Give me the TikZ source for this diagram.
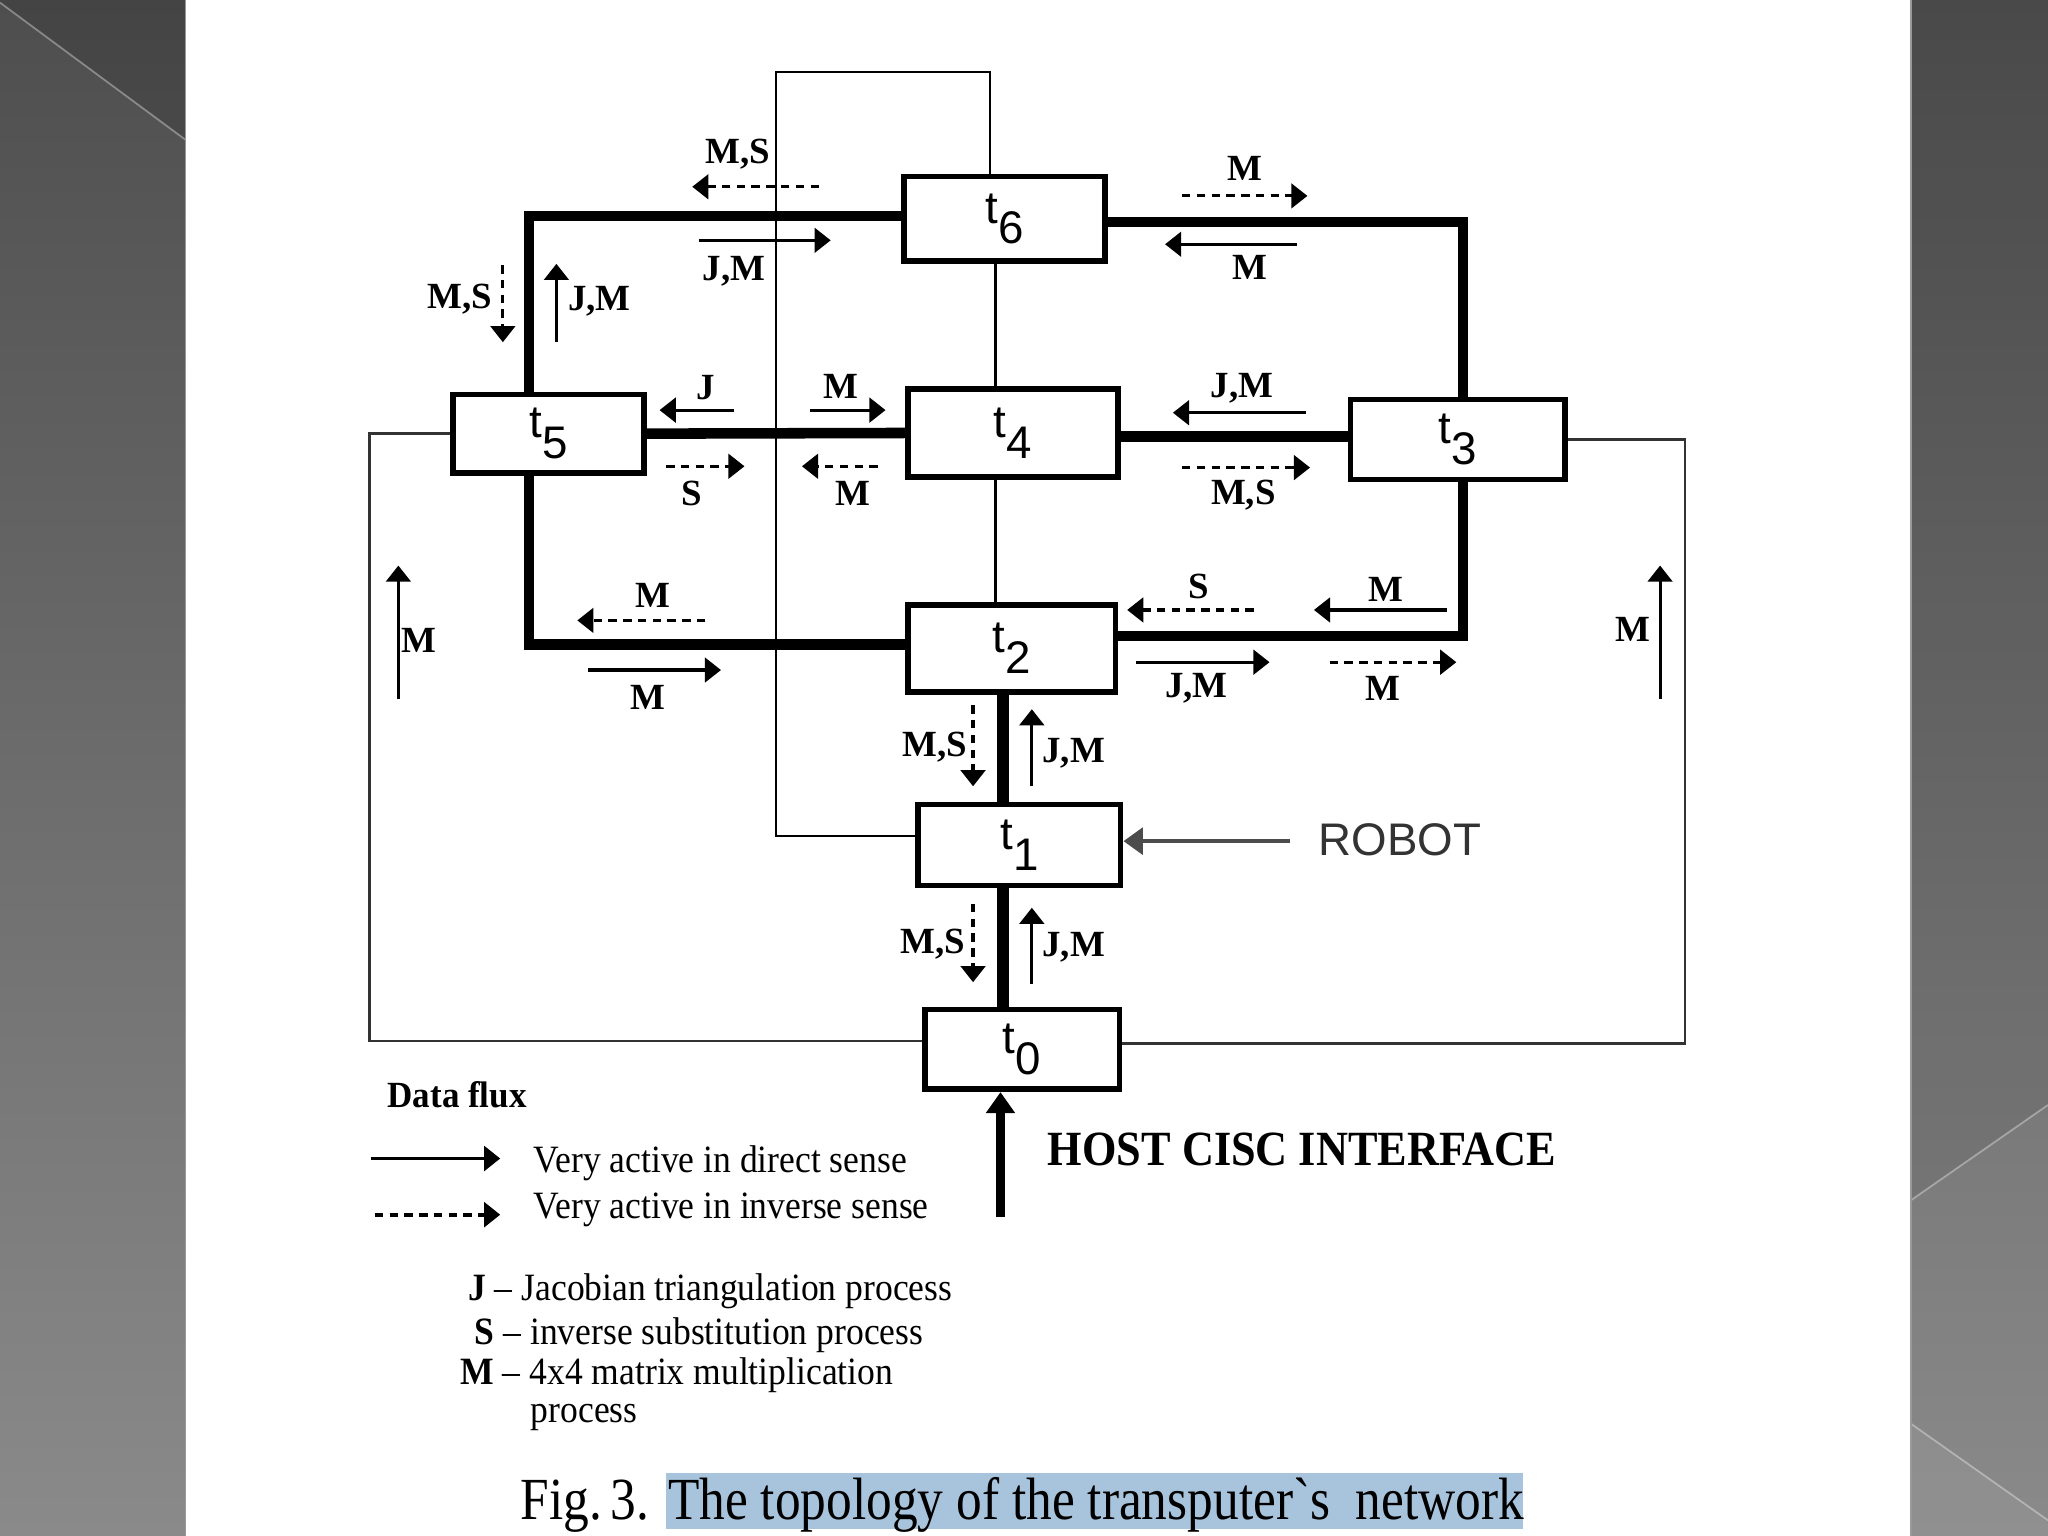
\documentclass[tikz,border=0pt]{standalone}
\usepackage{fontspec}
\setmainfont{Liberation Serif}
\newfontfamily\sansf{Liberation Sans}
\usetikzlibrary{arrows.meta,calc}
\definecolor{pnltop}{HTML}{4E4E4E}
\definecolor{pnlbot}{HTML}{8A8A8A}
\definecolor{capblue}{HTML}{A7C4DC}
\tikzset{
  tbox/.style={draw, line width=1.6pt, fill=white, inner sep=0pt, font=\sansf\fontsize{13}{13}\selectfont},
  thickln/.style={line width=3pt},
  thinln/.style={line width=0.7pt},
  ar/.style={line width=0.9pt, -{Triangle[length=4.6pt,width=7pt]}},
  da/.style={ar, dash pattern=on 2.4pt off 1.8pt},
  lbl/.style={font=\bfseries\fontsize{10.5}{10.5}\selectfont, inner sep=0pt},
  legtxt/.style={font=\fontsize{11}{13}\selectfont, inner sep=0pt, anchor=west}
}
\newcommand{\tl}[1]{t\raisebox{-0.45em}{#1}}
\begin{document}
\begin{tikzpicture}[x=0.01306cm, y=-0.01306cm]
\useasboundingbox (0,0) rectangle (1568,1176);
% background panels
\fill[white] (0,0) rectangle (1568,1176);
\shade[top color=pnltop, bottom color=pnlbot] (0,0) rectangle (142,1176);
\shade[top color=pnltop, bottom color=pnlbot] (1463,0) rectangle (1568,1176);
\fill[black, opacity=0.12] (0,0) -- (142,0) -- (142,107) -- (0,2) -- cycle;
\draw[white, opacity=0.35, line width=0.5pt] (0,2) -- (142,107);
\fill[black, opacity=0.06] (1463,0) -- (1568,0) -- (1568,846) -- (1463,919) -- cycle;
\draw[white, opacity=0.35, line width=0.5pt] (1463,919) -- (1568,846);
\fill[white, opacity=0.06] (1463,1090) -- (1568,1164) -- (1568,1176) -- (1463,1176) -- cycle;
\draw[white, opacity=0.35, line width=0.5pt] (1463,1090) -- (1568,1164);
\draw[black!40, line width=0.4pt] (142,0) -- (142,1176);
\draw[black!40, line width=0.4pt] (1463,0) -- (1463,1176);

% boxes
\node[tbox, minimum width=154*0.01306cm, minimum height=65*0.01306cm] (t6) at (769,167.5) {\tl{6}};
\node[tbox, minimum width=146*0.01306cm, minimum height=60*0.01306cm] (t5) at (420,332) {\tl{5}};
\node[tbox, minimum width=161*0.01306cm, minimum height=67*0.01306cm] (t4) at (775.5,331.5) {\tl{4}};
\node[tbox, minimum width=164*0.01306cm, minimum height=61*0.01306cm] (t3) at (1116,336.5) {\tl{3}};
\node[tbox, minimum width=159*0.01306cm, minimum height=67*0.01306cm] (t2) at (774.5,496.5) {\tl{2}};
\node[tbox, minimum width=155*0.01306cm, minimum height=62*0.01306cm] (t1) at (780.5,647) {\tl{1}};
\node[tbox, minimum width=149*0.01306cm, minimum height=61*0.01306cm] (t0) at (782.5,803.5) {\tl{0}};

% coordinates
\coordinate (ftl) at (594,55);
\coordinate (ftr) at (758,55);
\coordinate (vx) at (768,0);
\coordinate (mx) at (762,0);
\coordinate (ol) at (283,797);
\coordinate (orr) at (1290,799);
\coordinate (host) at (766,932);
\coordinate (rs) at (988,644);

% thin lines
\draw[thinln] ($(t1.west)+(0,-7)$) -| (ftl) -- (ftr) -- (ftr |- t6.north);
\draw[thinln] (t6.south -| mx) -- (t4.north -| mx);
\draw[thinln] (t4.south -| mx) -- (t2.north -| mx);
\draw[thinln, black!80] (t5.west) -| (ol) -- (ol -| t0.west);
\draw[thinln, black!80] (t3.east) -| (orr) -- (orr -| t0.east);

% thick ring
\draw[thickln] ($(t6.west)+(0,-2)$) -| ($(t5.north)+(-15,0)$);
\draw[thickln] ($(t5.south)+(-15,0)$) |- ($(t2.west)+(0,-3)$);
\draw[thickln] (t5.east) -- (t4.west);
\draw[thickln] ($(t6.east)+(0,2.5)$) -| ($(t3.north)+(4,0)$);
\draw[thickln] ($(t3.south)+(4,0)$) |- ($(t2.east)+(0,-9.5)$);
\draw[thickln] ($(t4.east)+(0,2.5)$) -- ($(t4.east -| t3.west)+(0,2.5)$);
\draw[thickln, line width=3.4pt] (t2.south -| vx) -- (t1.north -| vx);
\draw[thickln, line width=3.4pt] (t1.south -| vx) -- (t0.north -| vx);
\draw[line width=2.8pt, -{Triangle[length=6pt,width=8pt]}] (host) -- (t0.south -| host);

% robot
\node[font=\sansf\fontsize{13}{13}\selectfont, text=black!80, inner sep=0pt] (robot) at (1072,643) {ROBOT};
\draw[line width=1.3pt, black!70, -{Triangle[length=5.5pt,width=7.5pt]}] (rs) -- (rs -| t1.east);
\node[font=\bfseries\fontsize{14}{14}\selectfont, inner sep=0pt] (hostlbl) at (997,880) {\scalebox{0.9}[1]{HOST CISC INTERFACE}};

% flow arrows and labels
\draw[da] (627,143) -- (530,143); \node[lbl] (a1) at (565,118) {M,S};
\draw[ar] (535,184) -- (636,184); \node[lbl] (a2) at (562,208) {J,M};
\draw[da] (385,203) -- (385,262); \node[lbl] (a3) at (352,229) {M,S};
\draw[ar] (426,262) -- (426,202); \node[lbl] (a4) at (459,231) {J,M};
\draw[da] (905,150) -- (1001,150); \node[lbl] (a5) at (953,129) {M};
\draw[ar] (993,187) -- (892,187); \node[lbl] (a6) at (957,205) {M};
\draw[ar] (562,314) -- (505,314); \node[lbl] (a7) at (540,297) {J};
\draw[ar] (620,314) -- (678,314); \node[lbl] (a8) at (644,296) {M};
\draw[da] (510,357) -- (570,357); \node[lbl] (a9) at (530,378) {S};
\draw[da] (672,357) -- (614,357); \node[lbl] (a10) at (653,378) {M};
\draw[ar] (1000,316) -- (898,316); \node[lbl] (a11) at (951,297) {J,M};
\draw[da] (905,358) -- (1003,358); \node[lbl] (a12) at (952,379) {M,S};
\draw[da] (540,475) -- (442,475); \node[lbl] (a13) at (500,456) {M};
\draw[ar] (450,513) -- (552,513); \node[lbl] (a14) at (496,534) {M};
\draw[da] (960,467) -- (863,467); \node[lbl] (a15) at (918,449) {S};
\draw[ar] (1108,467) -- (1006,467); \node[lbl] (a16) at (1061,451) {M};
\draw[ar] (870,507) -- (972,507); \node[lbl] (a17) at (916,527) {J,M};
\draw[da] (1018,507) -- (1115,507); \node[lbl] (a18) at (1059,527) {M};
\draw[ar] (305,535) -- (305,433); \node[lbl] (a19) at (321,490) {M};
\draw[ar] (1271,535) -- (1271,433); \node[lbl] (a20) at (1250,482) {M};
\draw[da] (745,540) -- (745,602); \node[lbl] (a21) at (716,572) {M,S};
\draw[ar] (790,602) -- (790,543); \node[lbl] (a22) at (822,577) {J,M};
\draw[da] (745,692) -- (745,752); \node[lbl] (a23) at (714,723) {M,S};
\draw[ar] (790,753) -- (790,695); \node[lbl] (a24) at (822,725) {J,M};

% legend
\node[lbl, font=\bfseries\fontsize{10.5}{10.5}\selectfont] (dflux) at (350,838) {\scalebox{0.95}[1]{Data flux}};
\draw[ar, line width=1.1pt] (284,887) -- (383,887);
\draw[da, line width=1.1pt] (287,930) -- (383,930);
\node[legtxt] (lg1) at (408,891) {\scalebox{0.92}[1]{Very active in direct sense}};
\node[legtxt] (lg2) at (408,926) {\scalebox{0.92}[1]{Very active in inverse sense}};
\node[legtxt] (lg3) at (358,989) {\scalebox{0.92}[1]{\textbf{J} – Jacobian triangulation process}};
\node[legtxt] (lg4) at (363,1022) {\scalebox{0.92}[1]{\textbf{S} – inverse substitution process}};
\node[legtxt] (lg5) at (352,1053) {\scalebox{0.92}[1]{\textbf{M} – 4x4 matrix multiplication}};
\node[legtxt] (lg6) at (406,1085) {\scalebox{0.92}[1]{process}};

% caption
\node[fill=capblue, minimum width=656*0.01306cm, minimum height=43*0.01306cm, inner sep=0pt] (capbg) at (838,1149.5) {};
\node[font=\fontsize{17}{17}\selectfont, inner sep=0pt, anchor=base west] (fig) at (398,1163) {\scalebox{0.86}[1]{Fig.\,3.}};
\node[font=\fontsize{17}{17}\selectfont, inner sep=0pt, anchor=base west] (cap) at (511,1163) {\scalebox{0.86}[1]{The topology of the transputer\textasciigrave s\ \ network}};
\end{tikzpicture}
\end{document}
